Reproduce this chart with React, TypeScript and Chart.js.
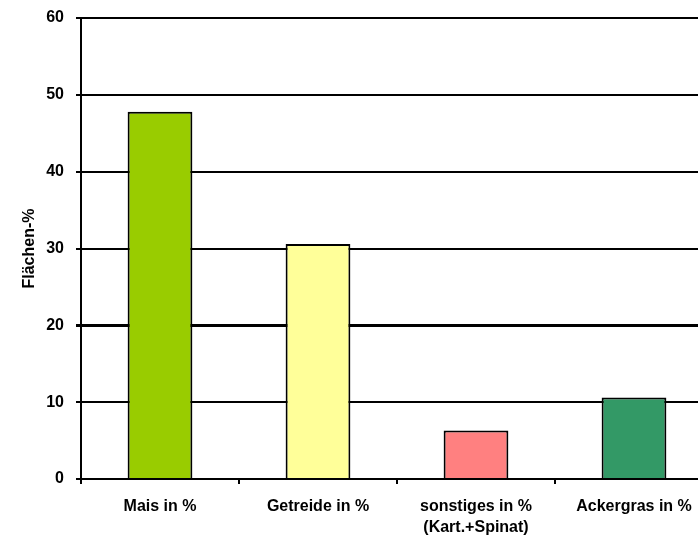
import React, { useEffect, useRef } from "react";
import { Chart, registerables } from "chart.js";

Chart.register(...registerables);

const categories: (string | string[])[] = [
  "Mais in %",
  "Getreide in %",
  ["sonstiges in %", "(Kart.+Spinat)"],
  "Ackergras in %",
];
const values = [47.8, 30.6, 6.3, 10.6];
const barColors = ["#99CC00", "#FFFF99", "#FF8080", "#339966"];
const yTitle = "Flächen-%";
const yMin = 0;
const yMax = 60;
const yStep = 10;

const FONT = "'Liberation Sans', Arial, sans-serif";

export default function App() {
  const ref = useRef<HTMLCanvasElement | null>(null);
  useEffect(() => {
    if (!ref.current) return;
    const chart = new Chart(ref.current, {
      type: "bar",
      data: {
        labels: categories,
        datasets: [
          {
            data: values,
            backgroundColor: barColors,
            borderColor: "#000000",
            borderWidth: 2,
            barPercentage: 0.41,
            categoryPercentage: 1,
          },
        ],
      },
      options: {
        responsive: false,
        animation: false,
        layout: { padding: { top: 18, right: 7, left: 0, bottom: 0 } },
        plugins: { legend: { display: false }, tooltip: { enabled: false } },
        scales: {
          x: {
            offset: true,
            grid: {
              offset: true,
              drawOnChartArea: false,
              drawTicks: true,
              tickLength: 5,
              color: "#000",
              lineWidth: 2,
            },
            border: { color: "#000", width: 2 },
            ticks: {
              color: "#000",
              padding: 12,
              maxRotation: 0,
              autoSkip: false,
              font: { family: FONT, size: 16, weight: "bold", lineHeight: 1.3 },
            },
            afterFit: (s: any) => {
              s.height = 59;
            },
          },
          y: {
            min: yMin,
            max: yMax,
            ticks: {
              stepSize: yStep,
              color: "#000",
              padding: 12,
              font: { family: FONT, size: 16, weight: "bold" },
            },
            grid: {
              color: "#000",
              lineWidth: (ctx: any) => (ctx.tick && ctx.tick.value === 20 ? 3 : 2),
              tickLength: 5,
            },
            border: { color: "#000", width: 2 },
            title: {
              display: true,
              text: yTitle,
              color: "#000",
              padding: { top: 20, bottom: 0 },
              font: { family: FONT, size: 16, weight: "bold" },
            },
            afterFit: (s: any) => {
              s.width = 81;
              s.paddingTop = 0;
              s.paddingBottom = 0;
            },
          },
        },
      },
    });
    return () => chart.destroy();
  }, []);
  return (
    <div style={{ position: "fixed", left: 0, top: 0, width: 698, height: 538, overflow: "hidden", background: "#fff" }}>
      <canvas ref={ref} width={720} height={538} style={{ width: 720, height: 538, display: "block" }} />
    </div>
  );
}
